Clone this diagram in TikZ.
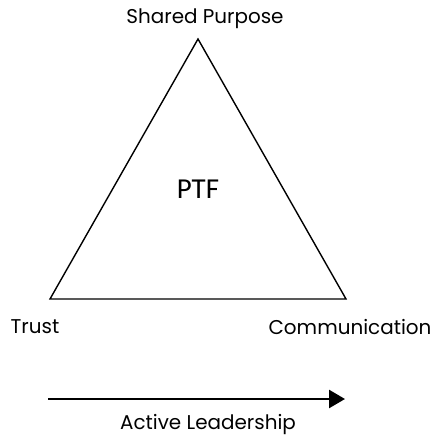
\documentclass[tikz,border=0pt]{standalone}
\usepackage{fontspec}
\setmainfont{Poppins}
\newfontfamily\ptffont{Carlito}
\usetikzlibrary{arrows.meta}
\begin{document}
\begin{tikzpicture}[x=1bp,y=-1bp,
  lbl/.style={font=\fontsize{20}{24}\selectfont, inner sep=0pt},
  edge/.style={line width=1.4bp, line join=miter},
  lead/.style={line width=2.6bp, -{Triangle[length=16bp,width=18bp]}}]
\useasboundingbox (0,0) rectangle (432,439);
\coordinate (top) at (198,39);
\coordinate (bl) at (50,299);
\coordinate (br) at (346,299);
\draw[edge] (top) -- (bl) -- (br) -- cycle;
\node[lbl] (sp) at (205,19) {Shared Purpose};
\node[lbl,font=\ptffont\fontsize{29}{33}\selectfont] (ptf) at (198,189) {PTF};
\node[lbl] (trust) at (35,327) {Trust};
\node[lbl] (comm) at (350,327) {Communication};
\coordinate (a1) at (48,399);
\coordinate (a2) at (345,399);
\draw[lead] (a1) -- (a2);
\node[lbl] (al) at (208,425) {Active Leadership};
\end{tikzpicture}
\end{document}
